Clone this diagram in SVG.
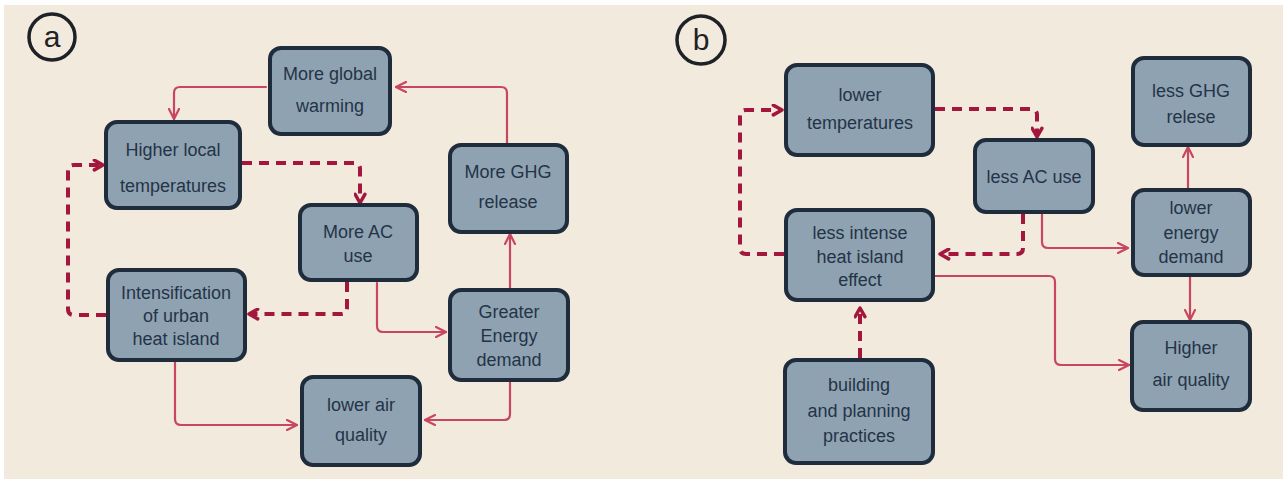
<svg xmlns="http://www.w3.org/2000/svg" width="1285" height="482" viewBox="0 0 1285 482">
  <defs>
    <style>
      .box { fill: #8fa2b2; stroke: #1f2c3b; stroke-width: 4; stroke-linejoin: round; }
      .lbl { font-family: "Liberation Sans", "DejaVu Sans", sans-serif; font-size: 18px; fill: #243447; text-anchor: middle; dominant-baseline: central; }
      .solid { fill: none; stroke: #c8465f; stroke-width: 2.2; stroke-linejoin: round; stroke-linecap: round; }
      .dash { fill: none; stroke: #a3163d; stroke-width: 4; stroke-dasharray: 10 7; stroke-linejoin: round; }
      .badge { fill: none; stroke: #1e2226; stroke-width: 3.5; }
      .badgeTxt { font-family: "Liberation Sans", "DejaVu Sans", sans-serif; font-size: 30px; fill: #1e2226; text-anchor: middle; dominant-baseline: central; }
    </style>
    <marker id="headSolid" viewBox="0 0 12 12" refX="11" refY="6" markerWidth="12" markerHeight="12" markerUnits="userSpaceOnUse" orient="auto">
      <path d="M1,1 L11,6 L1,11" fill="none" stroke="#c8465f" stroke-width="2.2" stroke-linecap="round" stroke-linejoin="round"/>
    </marker>
    <marker id="headDash" viewBox="0 0 12 12" refX="10" refY="6" markerWidth="13" markerHeight="13" markerUnits="userSpaceOnUse" orient="auto">
      <path d="M2,1.5 L10,6 L2,10.5" fill="none" stroke="#a3163d" stroke-width="3.2" stroke-linecap="round" stroke-linejoin="round"/>
    </marker>
  </defs>

  <!-- paper -->
  <rect x="0" y="0" width="1285" height="482" fill="#ffffff"/>
  <rect x="4" y="5" width="1279" height="474" fill="#f2eadd"/>

  <!-- panel labels -->
  <g id="label-a">
    <circle class="badge" cx="52" cy="37" r="23"/>
    <text class="badgeTxt" x="52" y="36">a</text>
  </g>
  <g id="label-b">
    <circle class="badge" cx="701" cy="40" r="24"/>
    <text class="badgeTxt" x="701" y="39">b</text>
  </g>

  <!-- connectors -->
  <g id="connectors">
    <!-- panel a -->
    <path class="solid" d="M507,145 V93 Q507,87 501,87 H396" marker-end="url(#headSolid)"/>
    <path class="solid" d="M266,87 H180 Q174,87 174,93 V119" marker-end="url(#headSolid)"/>
    <path class="dash" d="M242,163 H354 Q360,163 360,169 V203" marker-end="url(#headDash)"/>
    <path class="dash" d="M106,315 H74 Q68,315 68,309 V171 Q68,165 74,165 H103" marker-end="url(#headDash)"/>
    <path class="dash" d="M347,282 V308 Q347,314 341,314 H249" marker-end="url(#headDash)"/>
    <path class="solid" d="M377,283 V326 Q377,332 383,332 H446" marker-end="url(#headSolid)"/>
    <path class="solid" d="M510,288 V234" marker-end="url(#headSolid)"/>
    <path class="solid" d="M510,382 V414 Q510,420 504,420 H425" marker-end="url(#headSolid)"/>
    <path class="solid" d="M175,362 V419 Q175,425 181,425 H297" marker-end="url(#headSolid)"/>

    <!-- panel b -->
    <path class="dash" d="M784,254 H746 Q740,254 740,248 V116 Q740,110 746,110 H782" marker-end="url(#headDash)"/>
    <path class="dash" d="M935,109 H1031 Q1037,109 1037,115 V137" marker-end="url(#headDash)"/>
    <path class="dash" d="M1023,214 V248 Q1023,254 1017,254 H940" marker-end="url(#headDash)"/>
    <path class="solid" d="M1042,214 V242 Q1042,248 1048,248 H1128" marker-end="url(#headSolid)"/>
    <path class="solid" d="M1188,188 V147" marker-end="url(#headSolid)"/>
    <path class="solid" d="M1190,277 V320" marker-end="url(#headSolid)"/>
    <path class="solid" d="M935,276 H1049 Q1055,276 1055,282 V359 Q1055,365 1061,365 H1129" marker-end="url(#headSolid)"/>
    <path class="dash" d="M860,358 V308" marker-end="url(#headDash)"/>
  </g>

  <!-- panel a nodes -->
  <g id="node-global-warming">
    <rect class="box" x="270" y="48" width="120" height="86" rx="11"/>
    <text class="lbl" x="330" y="74">More global</text>
    <text class="lbl" x="330" y="106">warming</text>
  </g>
  <g id="node-higher-local">
    <rect class="box" x="106" y="122" width="134" height="86" rx="11"/>
    <text class="lbl" x="173" y="150">Higher local</text>
    <text class="lbl" x="173" y="186">temperatures</text>
  </g>
  <g id="node-more-ac">
    <rect class="box" x="300" y="205" width="117" height="75" rx="11"/>
    <text class="lbl" x="358" y="232">More AC</text>
    <text class="lbl" x="358" y="256">use</text>
  </g>
  <g id="node-more-ghg">
    <rect class="box" x="450" y="145" width="117" height="87" rx="11"/>
    <text class="lbl" x="508" y="172">More GHG</text>
    <text class="lbl" x="508" y="202">release</text>
  </g>
  <g id="node-intensification">
    <rect class="box" x="108" y="270" width="137" height="90" rx="11"/>
    <text class="lbl" x="176" y="293">Intensification</text>
    <text class="lbl" x="176" y="316">of urban</text>
    <text class="lbl" x="176" y="339">heat island</text>
  </g>
  <g id="node-energy-demand">
    <rect class="box" x="450" y="290" width="118" height="90" rx="11"/>
    <text class="lbl" x="509" y="312">Greater</text>
    <text class="lbl" x="509" y="336">Energy</text>
    <text class="lbl" x="509" y="360">demand</text>
  </g>
  <g id="node-air-quality-a">
    <rect class="box" x="302" y="377" width="118" height="88" rx="11"/>
    <text class="lbl" x="361" y="405">lower air</text>
    <text class="lbl" x="361" y="435">quality</text>
  </g>

  <!-- panel b nodes -->
  <g id="node-lower-temps">
    <rect class="box" x="786" y="65" width="147" height="90" rx="11"/>
    <text class="lbl" x="860" y="95">lower</text>
    <text class="lbl" x="860" y="123">temperatures</text>
  </g>
  <g id="node-less-ac">
    <rect class="box" x="975" y="140" width="118" height="72" rx="11"/>
    <text class="lbl" x="1034" y="177">less AC use</text>
  </g>
  <g id="node-less-ghg">
    <rect class="box" x="1133" y="58" width="117" height="87" rx="11"/>
    <text class="lbl" x="1191" y="91">less GHG</text>
    <text class="lbl" x="1191" y="117">relese</text>
  </g>
  <g id="node-lower-energy">
    <rect class="box" x="1133" y="190" width="117" height="85" rx="11"/>
    <text class="lbl" x="1191" y="208">lower</text>
    <text class="lbl" x="1191" y="233">energy</text>
    <text class="lbl" x="1191" y="257">demand</text>
  </g>
  <g id="node-less-intense">
    <rect class="box" x="786" y="210" width="147" height="90" rx="11"/>
    <text class="lbl" x="860" y="233">less intense</text>
    <text class="lbl" x="860" y="257">heat island</text>
    <text class="lbl" x="860" y="280">effect</text>
  </g>
  <g id="node-building">
    <rect class="box" x="785" y="360" width="148" height="103" rx="11"/>
    <text class="lbl" x="859" y="385">building</text>
    <text class="lbl" x="859" y="411">and planning</text>
    <text class="lbl" x="859" y="436">practices</text>
  </g>
  <g id="node-air-quality-b">
    <rect class="box" x="1132" y="322" width="118" height="88" rx="11"/>
    <text class="lbl" x="1191" y="348">Higher</text>
    <text class="lbl" x="1191" y="380">air quality</text>
  </g>
</svg>
